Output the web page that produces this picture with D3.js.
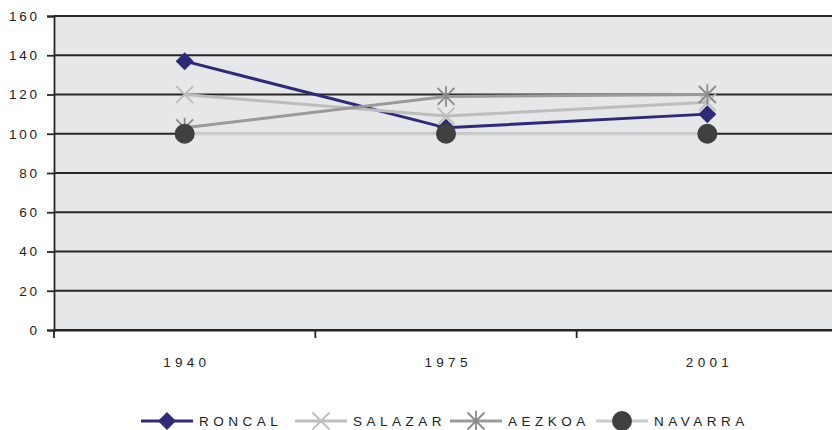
<!DOCTYPE html>
<html><head><meta charset="utf-8">
<script src="https://cdn.jsdelivr.net/npm/d3@7"></script>
<style>body{margin:0;background:#fff;}svg{display:block;font-family:"Liberation Sans",Arial,sans-serif;}</style>
</head><body>
<svg id="c" width="832" height="430"></svg>
<script>
const categories = ["1940", "1975", "2001"];
const roncal = [137, 103, 110];
const salazar = [120, 109, 116];
const aezkoa = [103, 119, 120];
const navarra = [100, 100, 100];
const yTicks = [0, 20, 40, 60, 80, 100, 120, 140, 160];
const seriesNames = ["RONCAL", "SALAZAR", "AEZKOA", "NAVARRA"];

const series = [
  {name: seriesNames[0], values: roncal, line: "#2E2A78", marker: "diamond", mcolor: "#2E2A78", w: 3},
  {name: seriesNames[1], values: salazar, line: "#BDBDBD", marker: "x", mcolor: "#BDBDBD", w: 3},
  {name: seriesNames[2], values: aezkoa, line: "#9A9A9A", marker: "star", mcolor: "#8A8A8A", w: 3},
  {name: seriesNames[3], values: navarra, line: "#CCCCCC", marker: "circle", mcolor: "#404040", w: 3}
];

const svg = d3.select("#c");
const L = 54, R = 838, T = 16, B = 330;
const x = d3.scaleBand().domain(categories).range([L, R]);
const y = d3.scaleLinear().domain([0, 160]).range([B, T]);
const FF = "Liberation Sans, Arial, sans-serif";

svg.append("rect").attr("x", L).attr("y", T).attr("width", R - L).attr("height", B - T).attr("fill", "#E6E7E9");

// gridlines
svg.append("g").selectAll("line").data(yTicks).join("line")
  .attr("x1", L).attr("x2", R).attr("y1", d => y(d)).attr("y2", d => y(d))
  .attr("stroke", "#262626").attr("stroke-width", 1.8);

// y axis
const ya = svg.append("g").attr("transform", `translate(${L},0)`)
  .call(d3.axisLeft(y).tickValues(yTicks).tickSize(7).tickPadding(10));
ya.select(".domain").attr("stroke", "#262626").attr("stroke-width", 1.8);
ya.selectAll(".tick line").attr("stroke", "#262626").attr("stroke-width", 1.8);
ya.selectAll("text").attr("font-size", 13.5).attr("fill", "#222").attr("letter-spacing", "2.7px")
  .attr("font-family", FF).attr("dx", "2.7px");

// x axis
const xa = svg.append("g").attr("transform", `translate(0,${B})`)
  .call(d3.axisBottom(x).tickSize(0).tickPadding(27));
xa.select(".domain").attr("stroke", "#262626").attr("stroke-width", 1.8);
xa.selectAll("text").attr("font-size", 13.5).attr("fill", "#222").attr("letter-spacing", "4.3px")
  .attr("font-family", FF).attr("dx", "2.1px");
// band boundary ticks
const bounds = categories.map(c => x(c)).concat([R]);
svg.append("g").selectAll("line").data(bounds).join("line")
  .attr("x1", d => d).attr("x2", d => d).attr("y1", B).attr("y2", B + 8)
  .attr("stroke", "#262626").attr("stroke-width", 1.8);

const cx = c => x(c) + x.bandwidth() / 2;

function drawMarker(g, type, color, px, py) {
  if (type === "diamond") {
    const r = 9;
    g.append("path").attr("d", `M${px},${py - r}L${px + r},${py}L${px},${py + r}L${px - r},${py}Z`)
      .attr("fill", color);
  } else if (type === "x") {
    const r = 8.5;
    g.append("path").attr("d", `M${px - r},${py - r}L${px + r},${py + r}M${px - r},${py + r}L${px + r},${py - r}`)
      .attr("stroke", color).attr("stroke-width", 1.8).attr("fill", "none");
  } else if (type === "star") {
    const r = 8.5;
    g.append("path").attr("d", `M${px - r},${py - r}L${px + r},${py + r}M${px - r},${py + r}L${px + r},${py - r}M${px},${py - r * 1.2}L${px},${py + r * 1.2}`)
      .attr("stroke", color).attr("stroke-width", 1.8).attr("fill", "none");
  } else {
    g.append("circle").attr("cx", px).attr("cy", py).attr("r", 10).attr("fill", color);
  }
}

const lineGen = d3.line().x(d => cx(d.c)).y(d => y(d.v));
series.forEach(s => {
  const pts = categories.map((c, j) => ({c, v: s.values[j]}));
  const g = svg.append("g");
  g.append("path").datum(pts).attr("d", lineGen).attr("fill", "none")
    .attr("stroke", s.line).attr("stroke-width", s.w);
  categories.forEach((c, j) => drawMarker(g, s.marker, s.mcolor, cx(c), y(s.values[j])));
});

// legend
const legX = [141, 295, 450, 596];
const ly = 421;
series.forEach((s, i) => {
  const g = svg.append("g");
  const x0 = legX[i];
  g.append("line").attr("x1", x0).attr("x2", x0 + 52).attr("y1", ly).attr("y2", ly)
    .attr("stroke", s.line).attr("stroke-width", s.w);
  drawMarker(g, s.marker, s.mcolor, x0 + 26, ly);
  g.append("text").attr("x", x0 + 58).attr("y", ly + 5).attr("font-size", 13.5)
    .attr("font-family", FF).attr("letter-spacing", "4.5px").attr("fill", "#222").text(s.name);
});
</script>
</body></html>
